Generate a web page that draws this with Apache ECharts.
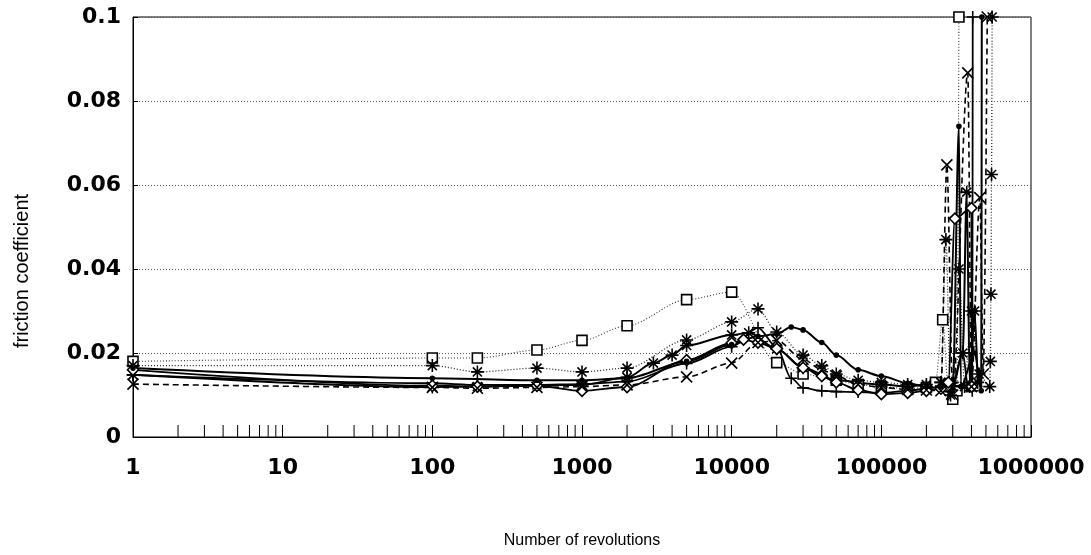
<!DOCTYPE html>
<html>
<head>
<meta charset="UTF-8">
<title>friction coefficient</title>
<script src="https://cdn.jsdelivr.net/npm/echarts@6/dist/echarts.min.js"></script>
<style>
  html, body { margin: 0; padding: 0; background: #fff; }
  #main { width: 1091px; height: 555px; }
</style>
</head>
<body>
<div id="main"></div>
<script>
// tick labels
var xTickLabels = [1, 10, 100, 1000, 10000, 100000, 1000000];
var yTickLabels = [0, 0.02, 0.04, 0.06, 0.08, 0.1];

// squares, dotted
var sqX = [1, 100, 200, 500, 1000, 2000, 5000, 10000, 20000, 30000, 50000, 70000, 100000, 150000, 200000, 230000, 257000, 280000, 300000, 320000, 330000];
var sqY = [0.018, 0.0188, 0.0188, 0.0207, 0.023, 0.0265, 0.0327, 0.0345, 0.0177, 0.015, 0.0135, 0.0125, 0.012, 0.0115, 0.0118, 0.013, 0.0279, 0.012, 0.009, 0.011, 0.1];

// asterisks, dotted
var astDotX = [1, 100, 200, 500, 1000, 2000, 5000, 10000, 15000, 20000, 30000, 40000, 50000, 70000, 100000, 150000, 200000, 250000, 270000, 290000, 330000, 360000, 400000, 450000, 530000, 535000, 540000, 545000, 550000];
var astDotY = [0.017, 0.017, 0.0155, 0.0164, 0.0155, 0.0164, 0.0231, 0.0274, 0.0305, 0.025, 0.0195, 0.017, 0.015, 0.0135, 0.013, 0.0125, 0.012, 0.013, 0.047, 0.01, 0.04, 0.012, 0.03, 0.015, 0.012, 0.018, 0.034, 0.0625, 0.1];

// asterisks, solid
var astX = [1, 100, 200, 500, 1000, 2000, 3000, 4000, 5000, 10000, 13000, 20000, 30000, 50000, 100000, 150000, 200000, 250000, 300000, 350000, 372000, 390000, 420000, 440000];
var astY = [0.0148, 0.0119, 0.012, 0.0124, 0.0124, 0.0142, 0.0176, 0.0195, 0.0218, 0.0243, 0.0248, 0.021, 0.0165, 0.0135, 0.0125, 0.012, 0.0125, 0.013, 0.012, 0.02, 0.0583, 0.012, 0.03, 0.013];

// plus, solid
var plusX = [1, 100, 200, 500, 1000, 2000, 5000, 10000, 15000, 20000, 25000, 30000, 40000, 50000, 70000, 100000, 150000, 200000, 250000, 300000, 350000, 380000, 405000, 408000];
var plusY = [0.0148, 0.0128, 0.0124, 0.0124, 0.0126, 0.0132, 0.0175, 0.0215, 0.026, 0.0214, 0.014, 0.0117, 0.011, 0.0108, 0.0107, 0.0105, 0.011, 0.0115, 0.012, 0.013, 0.02, 0.012, 0.011, 0.1];

// diamonds, solid
var diaX = [1, 100, 200, 500, 1000, 2000, 5000, 10000, 12000, 15000, 20000, 30000, 40000, 50000, 70000, 100000, 150000, 200000, 250000, 280000, 310000, 400000, 402000];
var diaY = [0.016, 0.0122, 0.012, 0.0122, 0.011, 0.0119, 0.0183, 0.0224, 0.0232, 0.0225, 0.021, 0.0165, 0.0145, 0.013, 0.0112, 0.0102, 0.0105, 0.011, 0.0115, 0.013, 0.052, 0.0545, 0.012];

// crosses, dashed
var crossX = [1, 100, 200, 500, 1000, 2000, 5000, 10000, 15000, 20000, 30000, 40000, 50000, 70000, 100000, 150000, 200000, 250000, 274000, 300000, 378000, 400000, 455000, 480000, 510000];
var crossY = [0.0126, 0.0118, 0.0116, 0.0118, 0.012, 0.0124, 0.0143, 0.0176, 0.0225, 0.023, 0.0185, 0.016, 0.0145, 0.0125, 0.0118, 0.0113, 0.0112, 0.011, 0.0648, 0.01, 0.0867, 0.012, 0.057, 0.015, 0.1];

// small dots, solid
var dotX = [1, 100, 500, 1000, 2000, 5000, 10000, 15000, 20000, 25000, 30000, 40000, 50000, 70000, 100000, 150000, 200000, 250000, 300000, 330000, 340000, 420000, 465000, 469000];
var dotY = [0.0164, 0.014, 0.0135, 0.0135, 0.014, 0.018, 0.022, 0.024, 0.0245, 0.0262, 0.0255, 0.0225, 0.0195, 0.016, 0.0145, 0.0128, 0.012, 0.012, 0.011, 0.074, 0.012, 0.02, 0.011, 0.1];

// minor ticks 2..9 of every decade
var minorTicks = [];
for (var d = 1; d < 1000000; d *= 10) {
  for (var k = 2; k <= 9; k++) minorTicks.push([k * d, 0]);
}

function pairs(xs, ys) {
  return xs.map(function (x, i) { return [x, ys[i]]; });
}

var ASTER = 'path://M10,0L10,20M0,10L20,10M3,3L17,17M3,17L17,3';
var PLUS = 'path://M5,0L5,10M0,5L10,5';
var CROSS = 'path://M0,0L10,10M0,10L10,0';

function lineSeries(xs, ys, symbol, size, fill, lineType, lineColor, width) {
  return {
    type: 'line',
    data: pairs(xs, ys),
    symbol: symbol,
    symbolSize: size,
    showAllSymbol: true,
    smooth: 0.3,
    smoothMonotone: 'x',
    clip: true,
    itemStyle: { color: fill, borderColor: '#000', borderWidth: 1.6 },
    lineStyle: { color: lineColor, width: width, type: lineType }
  };
}

var myChart = echarts.init(document.getElementById('main'));

var option = {
  animation: false,
  backgroundColor: '#fff',
  grid: { left: 133, right: 60, top: 17, bottom: 118, show: true, borderColor: '#000', borderWidth: 1 },
  xAxis: {
    type: 'log',
    logBase: 10,
    min: xTickLabels[0],
    max: xTickLabels[xTickLabels.length - 1],
    name: 'Number of revolutions',
    nameLocation: 'middle',
    nameGap: 96,
    nameTextStyle: { fontFamily: 'Liberation Sans', fontSize: 16, color: '#000' },
    axisLine: { lineStyle: { color: '#000' } },
    axisTick: { inside: true, length: 12, lineStyle: { color: '#000' } },
    axisLabel: {
      margin: 20,
      color: '#000',
      fontFamily: 'DejaVu Sans',
      fontWeight: 'bold',
      fontSize: 22,
      formatter: function (v) { return String(Math.round(v)); }
    },
    splitLine: { show: false }
  },
  yAxis: {
    type: 'value',
    min: yTickLabels[0],
    max: yTickLabels[yTickLabels.length - 1],
    interval: 0.02,
    axisLine: { lineStyle: { color: '#000' } },
    axisTick: { inside: true, length: 5, lineStyle: { color: '#000' } },
    axisLabel: {
      margin: 12,
      color: '#000',
      fontFamily: 'DejaVu Sans',
      fontWeight: 'bold',
      fontSize: 22,
      formatter: function (v) { return v === 0 ? '0' : v.toFixed(2).replace(/0$/, ''); }
    },
    splitLine: { show: true, lineStyle: { color: '#555', type: [1, 2], width: 1 } }
  },
  graphic: [{
    type: 'text',
    x: 22,
    y: 271,
    rotation: Math.PI / 2,
    style: {
      text: 'friction coefficient',
      fill: '#000',
      font: '20px "Liberation Sans"',
      align: 'center',
      verticalAlign: 'middle'
    }
  }],
  series: [
    lineSeries(sqX, sqY, 'rect', 10, '#fff', [1, 2], '#333', 1.1),
    lineSeries(astDotX, astDotY, ASTER, 13, 'rgba(0,0,0,0)', [1, 2], '#222', 1.3),
    lineSeries(astX, astY, ASTER, 13, 'rgba(0,0,0,0)', 'solid', '#000', 2),
    lineSeries(plusX, plusY, PLUS, 12, 'rgba(0,0,0,0)', 'solid', '#000', 1.8),
    lineSeries(diaX, diaY, 'diamond', 11, '#fff', 'solid', '#000', 1.8),
    lineSeries(crossX, crossY, CROSS, 11, 'rgba(0,0,0,0)', [6, 4], '#000', 1.6),
    lineSeries(dotX, dotY, 'circle', 4, '#000', 'solid', '#000', 2),
    {
      type: 'custom',
      silent: true,
      clip: false,
      data: minorTicks,
      renderItem: function (params, api) {
        var p = api.coord([api.value(0), 0]);
        return {
          type: 'line',
          shape: { x1: p[0], y1: p[1], x2: p[0], y2: p[1] - 12 },
          style: { stroke: '#000', lineWidth: 1 }
        };
      }
    }
  ]
};

myChart.setOption(option);
</script>
</body>
</html>
